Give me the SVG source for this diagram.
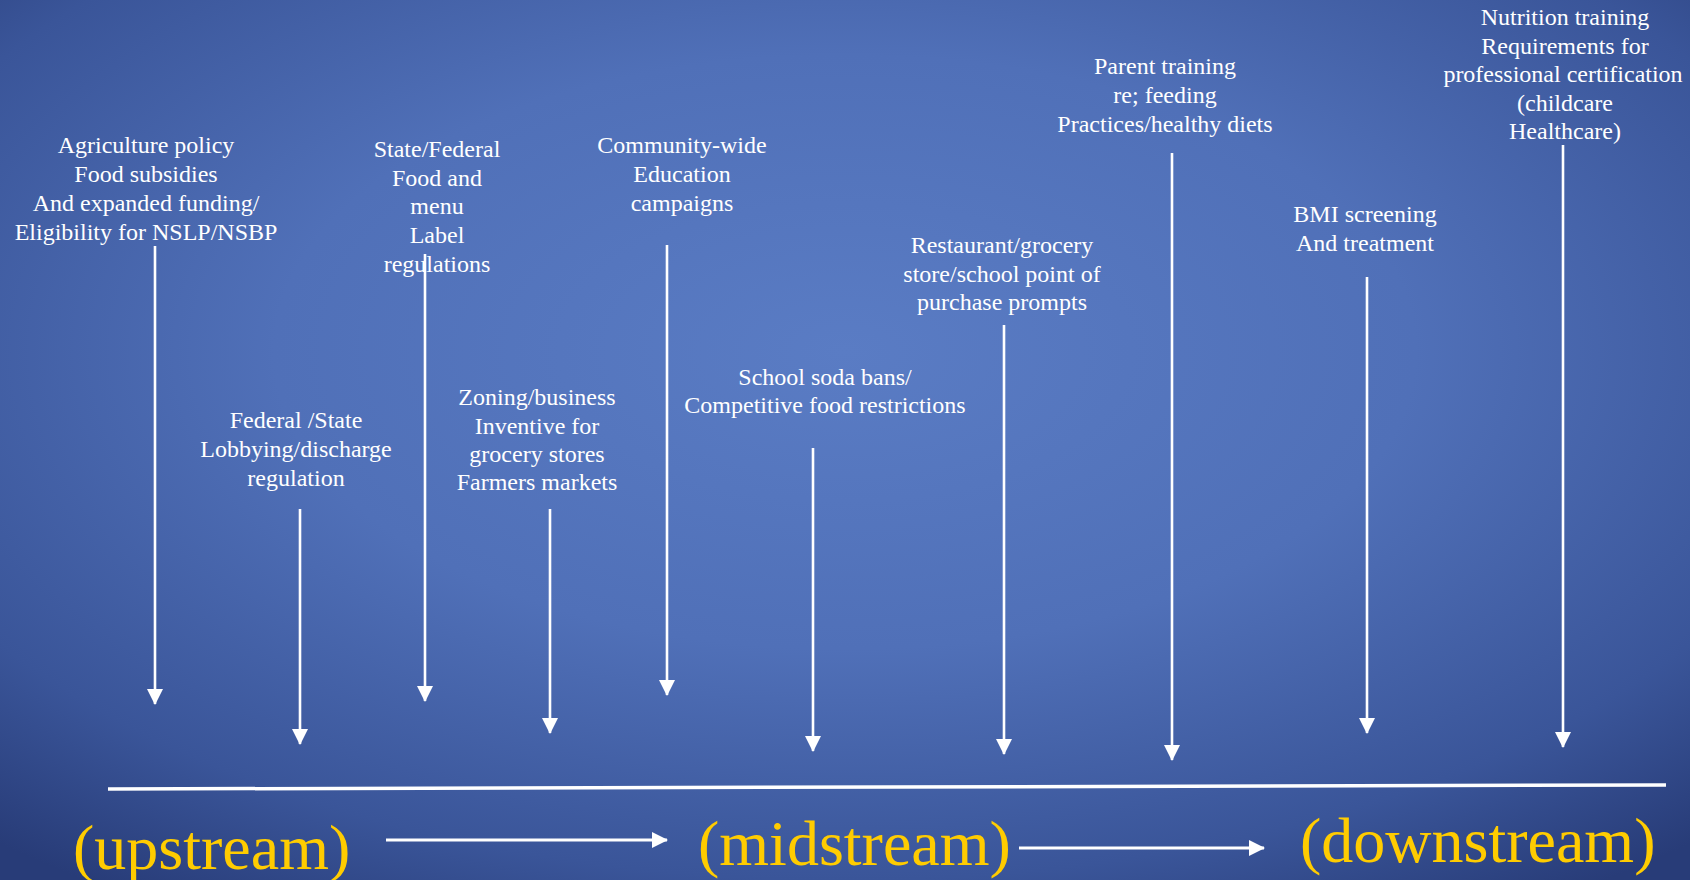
<svg xmlns="http://www.w3.org/2000/svg" width="1690" height="880" viewBox="0 0 1690 880">
<defs>
<radialGradient id="bg" cx="50%" cy="40%" r="75%" fx="50%" fy="40%">
<stop offset="0" stop-color="#5a7cc4"/>
<stop offset="0.45" stop-color="#5070b8"/>
<stop offset="0.8" stop-color="#3a5599"/>
<stop offset="1" stop-color="#283c78"/>
</radialGradient>
<marker id="ah" markerUnits="userSpaceOnUse" markerWidth="16" markerHeight="16" viewBox="0 0 16 16" refX="15" refY="8" orient="auto">
<path d="M0,0 L16,8 L0,16 Z" fill="#ffffff"/>
</marker>
</defs>
<style>
.lbl{font-family:"Liberation Serif","Times New Roman",serif;font-size:24px;fill:#ffffff;text-anchor:middle}
.stream{font-family:"Liberation Serif","Times New Roman",serif;font-size:64px;fill:#ffcc00}
.arr{stroke:#ffffff;stroke-width:2.6;fill:none;marker-end:url(#ah)}
.base{stroke:#ffffff;stroke-width:3.5;fill:none}
</style>
<rect x="0" y="0" width="1690" height="880" fill="url(#bg)"/>

<g id="n1"><text class="lbl"><tspan x="146" y="153">Agriculture policy</tspan><tspan x="146" y="182">Food subsidies</tspan><tspan x="146" y="211">And expanded funding/</tspan><tspan x="146" y="240">Eligibility for NSLP/NSBP</tspan></text></g>
<g id="n2"><text class="lbl"><tspan x="296" y="428">Federal /State</tspan><tspan x="296" y="457">Lobbying/discharge</tspan><tspan x="296" y="486">regulation</tspan></text></g>
<g id="n3"><text class="lbl"><tspan x="437" y="157">State/Federal</tspan><tspan x="437" y="186">Food and</tspan><tspan x="437" y="214">menu</tspan><tspan x="437" y="243">Label</tspan><tspan x="437" y="272">regulations</tspan></text></g>
<g id="n4"><text class="lbl"><tspan x="537" y="405">Zoning/business</tspan><tspan x="537" y="434">Inventive for</tspan><tspan x="537" y="462">grocery stores</tspan><tspan x="537" y="490">Farmers markets</tspan></text></g>
<g id="n5"><text class="lbl"><tspan x="682" y="153">Community-wide</tspan><tspan x="682" y="182">Education</tspan><tspan x="682" y="211">campaigns</tspan></text></g>
<g id="n6"><text class="lbl"><tspan x="825" y="385">School soda bans/</tspan><tspan x="825" y="413">Competitive food restrictions</tspan></text></g>
<g id="n7"><text class="lbl"><tspan x="1002" y="253">Restaurant/grocery</tspan><tspan x="1002" y="282">store/school point of</tspan><tspan x="1002" y="310">purchase prompts</tspan></text></g>
<g id="n8"><text class="lbl"><tspan x="1165" y="74">Parent training</tspan><tspan x="1165" y="103">re; feeding</tspan><tspan x="1165" y="132">Practices/healthy diets</tspan></text></g>
<g id="n9"><text class="lbl"><tspan x="1365" y="222">BMI screening</tspan><tspan x="1365" y="251">And treatment</tspan></text></g>
<g id="n10"><text class="lbl"><tspan x="1565" y="25">Nutrition training</tspan><tspan x="1565" y="54">Requirements for</tspan><tspan x="1563" y="82">professional certification</tspan><tspan x="1565" y="111">(childcare</tspan><tspan x="1565" y="139">Healthcare)</tspan></text></g>

<g id="streams">
<text class="stream" x="73" y="869">(upstream)</text>
<text class="stream" x="698" y="865">(midstream)</text>
<text class="stream" x="1300" y="862">(downstream)</text>
</g>

<g id="connectors">
<line class="arr" x1="155" y1="246" x2="155" y2="704"/>
<line class="arr" x1="300" y1="509" x2="300" y2="744"/>
<line class="arr" x1="425" y1="254" x2="425" y2="701"/>
<line class="arr" x1="550" y1="509" x2="550" y2="733"/>
<line class="arr" x1="667" y1="245" x2="667" y2="695"/>
<line class="arr" x1="813" y1="448" x2="813" y2="751"/>
<line class="arr" x1="1004" y1="325" x2="1004" y2="754"/>
<line class="arr" x1="1172" y1="153" x2="1172" y2="760"/>
<line class="arr" x1="1367" y1="277" x2="1367" y2="733"/>
<line class="arr" x1="1563" y1="145" x2="1563" y2="747"/>
<line class="base" x1="108" y1="789" x2="1666" y2="785"/>
<line class="arr" style="stroke-width:3" x1="386" y1="840" x2="667" y2="840"/>
<line class="arr" style="stroke-width:3" x1="1019" y1="848" x2="1264" y2="848"/>
</g>
</svg>
